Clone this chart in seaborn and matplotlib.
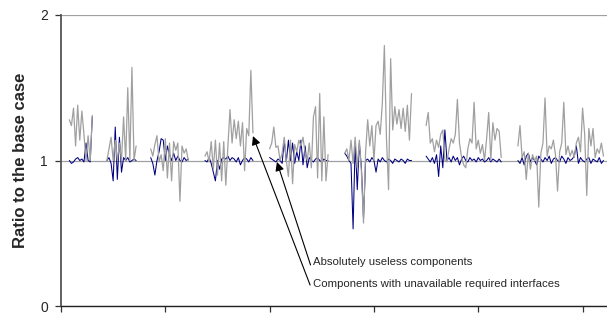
import pandas as pd
import seaborn as sns
import matplotlib.pyplot as plt
import numpy as np

# Series names (as pointed to by the arrows in the chart)
gray_name = 'Components with unavailable required interfaces'
blue_name = 'Absolutely useless components'

# First x index of each run of measurements (gaps between runs)
seg_starts = [4, 22, 43, 69, 100, 136, 175, 219]

# Ratio to the base case, one list per run
gray_segs = [
    [1.28, 1.24, 1.36, 1.10, 1.38, 1.14, 1.34, 1.18, 1.00, 1.17, 1.00, 1.31],
    [1.00, 1.08, 1.16, 1.00, 1.14, 1.00, 1.12, 1.00, 1.30, 1.00, 1.50, 1.00, 1.64, 1.00, 1.10],
    [1.08, 1.03, 1.11, 1.17, 0.99, 1.04, 0.93, 1.15, 0.88, 1.12, 0.86, 1.13, 1.07, 1.12, 0.72,
     1.10, 1.05, 1.08, 1.00],
    [1.03, 1.06, 0.99, 1.13, 0.94, 1.14, 0.90, 1.12, 0.86, 1.13, 0.83, 1.10, 1.35, 1.12, 1.28,
     1.15, 1.27, 1.10, 1.26, 0.93, 1.22, 1.17, 1.62, 1.19],
    [1.08, 1.12, 1.23, 1.09, 1.10, 1.00, 1.05, 1.16, 1.00, 0.89, 1.14, 0.84, 1.11, 1.06, 1.14,
     1.10, 1.16, 1.05, 1.00, 1.12, 0.95, 1.30, 1.37, 0.88, 1.46, 0.86, 1.30, 0.86, 1.04],
    [1.05, 1.08, 1.00, 1.14, 0.98, 1.16, 0.95, 1.14, 0.92, 0.57, 1.06, 1.28, 1.10, 1.24, 1.00,
     1.24, 1.27, 1.18, 1.39, 1.79, 1.15, 0.80, 1.70, 1.21, 1.37, 1.25, 1.35, 1.22, 1.36, 1.20,
     1.38, 1.14, 1.46],
    [1.24, 1.33, 1.12, 1.15, 1.06, 1.14, 1.09, 1.18, 1.21, 1.00, 0.99, 1.08, 1.15, 1.12, 1.18,
     1.42, 1.12, 1.02, 0.97, 0.95, 1.08, 1.15, 1.12, 1.40, 1.08, 1.14, 1.05, 1.11, 1.00, 1.15,
     1.33, 1.00, 1.26, 1.14, 1.22, 1.20, 1.02],
    [1.10, 1.24, 1.02, 1.06, 0.87, 1.05, 0.94, 1.04, 1.00, 1.03, 0.68, 1.05, 1.12, 1.43, 1.03,
     1.10, 1.08, 1.14, 1.04, 0.79, 1.06, 1.12, 1.40, 1.04, 1.10, 1.03, 1.07, 1.02, 1.12, 1.16,
     1.06, 1.36, 1.18, 0.76, 1.22, 1.10, 1.22, 1.02, 1.08, 1.05, 1.12, 1.03],
]

blue_segs = [
    [1.00, 0.98, 0.99, 1.01, 1.02, 1.00, 1.01, 0.99, 1.12, 1.00, 0.99, 1.30],
    [1.00, 1.02, 0.98, 0.86, 1.23, 0.87, 1.16, 0.92, 1.02, 1.00, 1.02, 0.99, 1.00, 1.01, 1.00],
    [1.02, 0.98, 0.90, 1.00, 1.06, 1.15, 1.14, 1.00, 1.10, 1.04, 1.00, 1.05, 1.00, 1.03, 1.00,
     0.99, 1.02, 1.00, 1.01],
    [1.00, 0.99, 1.02, 0.98, 0.92, 0.86, 1.00, 0.94, 1.01, 1.02, 1.01, 1.03, 1.00, 1.02, 1.01,
     0.99, 1.02, 0.97, 1.00, 1.02, 1.01, 0.99, 1.02, 1.00],
    [1.02, 1.01, 1.00, 0.99, 1.01, 1.00, 0.98, 1.14, 0.99, 1.14, 1.00, 1.12, 0.98, 1.06, 1.00,
     1.14, 0.97, 1.10, 0.95, 1.02, 1.00, 0.99, 1.01, 1.02, 1.00, 0.99, 1.01, 1.00, 1.00],
    [1.05, 1.03, 1.00, 0.98, 0.53, 1.13, 0.80, 1.12, 0.95, 0.60, 1.00, 1.01, 0.99, 1.02, 1.00,
     0.92, 1.01, 0.99, 1.02, 1.00, 0.99, 1.01, 1.00, 0.98, 1.01, 1.00, 0.99, 1.01, 1.00, 0.98,
     1.01, 1.00, 1.00],
    [1.03, 1.01, 0.99, 1.02, 0.98, 1.04, 0.89, 1.10, 0.95, 1.21, 1.00, 1.02, 0.99, 1.03, 1.00,
     1.02, 0.97, 1.01, 1.03, 1.00, 0.99, 1.02, 1.00, 1.01, 0.99, 1.02, 1.00, 1.01, 0.99, 1.00,
     1.02, 0.99, 1.01, 1.00, 0.99, 1.01, 0.99],
    [1.00, 0.98, 1.02, 0.97, 1.03, 1.05, 0.99, 1.02, 1.00, 0.97, 1.03, 1.01, 0.99, 1.02, 1.00,
     1.03, 0.98, 1.01, 1.02, 1.00, 0.99, 1.03, 1.01, 0.98, 1.02, 1.00, 1.01, 1.03, 1.10, 0.98,
     1.02, 1.00, 0.99, 1.01, 1.02, 0.98, 1.01, 1.00, 0.99, 1.02, 0.98, 1.00],
]

y_ticks = [0, 1, 2]
x_ticks = [0, 50, 100, 150, 200, 250]

# Build long-form frame, one 'unit' per run so gaps stay open
rows = []
for k, start in enumerate(seg_starts):
    for name, segs in [(gray_name, gray_segs), (blue_name, blue_segs)]:
        for i, v in enumerate(segs[k]):
            rows.append({'x': start + i, 'ratio': v, 'series': name, 'seg': k})
df = pd.DataFrame(rows)

sns.set_style('white')
plt.rcParams['font.family'] = ['Liberation Sans', 'DejaVu Sans']

fig = plt.figure(figsize=(6.07, 3.14), dpi=100)
ax = fig.add_axes([61 / 607, 8 / 314, 546 / 607, 291 / 314])

# blue first, gray drawn over it
sns.lineplot(data=df[df['series'] == blue_name], x='x', y='ratio', units='seg', estimator=None,
             color='#000080', linewidth=0.75, legend=False, ax=ax)
sns.lineplot(data=df[df['series'] == gray_name], x='x', y='ratio', units='seg', estimator=None,
             color='#a0a0a0', linewidth=0.9, legend=False, ax=ax)

ax.set_xlim(0, 261.7)
ax.set_ylim(0, 2)
ax.set_yticks(y_ticks)
ax.set_xticks(x_ticks)
ax.set_xticklabels([])
ax.set_xlabel('')
ax.set_ylabel('Ratio to the base case', fontsize=12, fontweight='bold')
ax.yaxis.set_label_coords(-0.06, 0.5)

ax.yaxis.grid(True, color='#a0a0a0', linewidth=0.9)
ax.xaxis.grid(False)
ax.set_axisbelow(True)

for s in ['top', 'right']:
    ax.spines[s].set_visible(False)
ax.spines['left'].set_color('#555555')
ax.spines['left'].set_linewidth(1.3)
ax.spines['bottom'].set_color('#222222')
ax.spines['bottom'].set_linewidth(1.0)

ax.tick_params(axis='y', left=True, direction='out', length=4.5, width=0.9, color='#333333',
               labelsize=10, pad=5)
ax.tick_params(axis='x', bottom=True, direction='out', length=4.5, width=0.9, color='#333333')

# Arrow annotations
arrow = dict(arrowstyle='-|>', color='black', lw=0.8, mutation_scale=13, shrinkA=0, shrinkB=0)
ax.annotate('', xy=(92.0, 1.168), xytext=(119.4, 0.144), arrowprops=arrow)
ax.annotate('', xy=(103.5, 0.99), xytext=(119.6, 0.282), arrowprops=arrow)
ax.text(121.0, 0.302, blue_name, fontsize=8.2, va='center', ha='left')
ax.text(121.0, 0.151, gray_name, fontsize=8.2, va='center', ha='left')

fig.savefig('out.png', dpi=100)
